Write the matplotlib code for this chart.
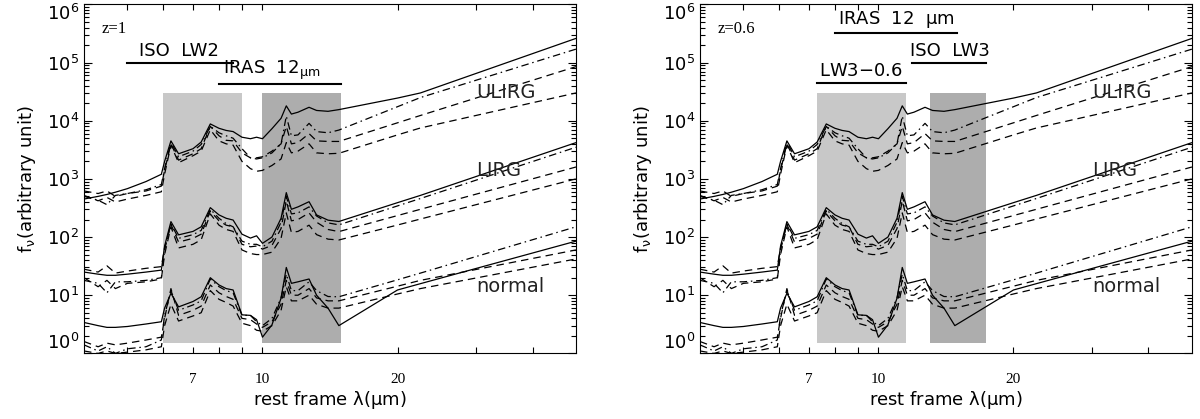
import numpy as np
import matplotlib.pyplot as plt

# rest-frame wavelength grid (micron), shared by every template
wave = [4.0, 4.3, 4.5, 4.7, 5.0, 5.5, 5.95, 6.05, 6.25, 6.5, 7.0, 7.3, 7.65, 8.0, 8.3,
        8.6, 9.0, 9.4, 9.7, 10.0, 10.5, 11.0, 11.3, 11.6, 12.0, 12.7, 13.2, 14.0, 14.8,
        20.0, 22.5, 50.0]

# ULIRG templates
ulirg_solid = [450, 500, 540, 590, 680, 900, 1200, 2000, 4500, 2700, 3300, 4300, 8800, 7400, 6800,
               6500, 5200, 4900, 5200, 4900, 7300, 11000, 18000, 13000, 14000, 17000, 15000, 14500, 15500,
               24500, 30000, 260000]
ulirg_dashdot = [500, 430, 360, 520, 560, 650, 800, 1500, 4300, 2400, 3000, 3900, 8000, 6200, 5500,
                 5000, 3300, 2300, 2200, 2300, 2800, 4000, 12000, 5500, 5700, 9000, 6500, 6200, 6900,
                 17400, 25000, 170000]
ulirg_dash1 = [620, 560, 620, 500, 560, 620, 750, 1400, 4000, 2100, 2700, 3300, 8000, 5500, 4600,
               4500, 2800, 2300, 2300, 2400, 3000, 4000, 8000, 4000, 4200, 6000, 4500, 4400, 4400,
               9200, 12300, 85000]
ulirg_dash2 = [520, 420, 480, 400, 450, 520, 600, 1200, 3800, 1900, 2500, 3000, 7000, 4500, 4000,
               3800, 2000, 1500, 1350, 1400, 1700, 2200, 4200, 2800, 3000, 4000, 2800, 2700, 2750,
               5700, 7500, 30000]

# LIRG templates
lirg_solid = [25, 23, 22, 22, 23, 25, 27, 70, 184, 109, 125, 150, 320, 240, 210,
              196, 112, 96, 105, 78, 100, 210, 580, 300, 330, 405, 240, 195, 185,
              390, 520, 4200]
lirg_dashdot = [18, 16, 11, 17, 17, 18, 20, 60, 170, 95, 110, 130, 300, 210, 170,
                150, 85, 75, 75, 68, 85, 180, 500, 250, 260, 330, 230, 175, 162,
                343, 460, 3500]
lirg_dash1 = [28, 25, 32, 24, 26, 29, 31, 65, 165, 82, 95, 112, 280, 190, 160,
              150, 75, 68, 70, 62, 72, 140, 420, 190, 200, 260, 180, 135, 124,
              234, 300, 1600]
lirg_dash2 = [20, 14, 18, 13, 16, 17, 19, 50, 150, 65, 75, 90, 250, 160, 135,
              125, 60, 52, 50, 50, 55, 95, 260, 120, 125, 160, 110, 92, 89,
              161, 204, 1000]

# normal galaxy templates
normal_solid = [3.4, 3.0, 2.8, 2.8, 2.9, 3.2, 3.5, 6.0, 10.8, 6.3, 7.8, 9.4, 20, 15, 13,
                12.3, 4.6, 4.5, 3.8, 1.9, 3.1, 8.9, 30, 16, 17, 19, 10, 6, 3.0,
                12.3, 15.8, 85]
normal_dashdot = [1.4, 1.1, 1.3, 1.0, 1.2, 1.3, 1.7, 4.5, 12, 5.5, 6.8, 8, 19, 14, 12,
                  11, 4.5, 4.5, 3.5, 3.0, 4.0, 9, 23, 12, 12, 17, 12, 9.5, 9.4,
                  18.4, 24, 150]
normal_dash1 = [1.6, 1.3, 1.5, 1.4, 1.5, 1.7, 1.9, 4.0, 13, 4.5, 5.5, 6.5, 15, 11, 9.5,
                8.5, 4.0, 3.8, 3.2, 2.8, 3.5, 7, 18, 10, 10, 13, 9, 8, 8,
                14.3, 18, 60]
normal_dash2 = [1.1, 1.0, 1.1, 1.0, 1.05, 1.15, 1.3, 3.0, 7, 3.6, 4.4, 5, 12, 8.5, 7.5,
                6.5, 3.3, 3.0, 2.5, 2.4, 3.0, 5.5, 14, 8, 8, 10, 7, 6, 6,
                10.5, 13, 42]

group_names = ["ULIRG", "LIRG", "normal"]
group_label_y = [3.0e4, 1.4e3, 14]

# filter bands (rest frame) and labels per panel: (label, start, end, height, text centre)
redshifts = ["z=1", "z=0.6"]
light_band = [(6.0, 9.0), (7.3, 11.5)]
dark_band = [(10.0, 15.0), (13.0, 17.4)]
filters = [
    [("ISO  LW2", 5.0, 8.6, 1.0e5, 6.5), ("IRAS  12$_{\\mu \\rm m}$", 8.0, 15.0, 4.2e4, 10.5)],
    [("IRAS  12  $\\mu$m", 8.0, 15.0, 3.2e5, 10.95), ("ISO  LW3", 11.9, 17.4, 1.0e5, 14.4),
     ("LW3$-$0.6", 7.3, 11.5, 4.4e4, 9.16)],
]

curves = [
    (ulirg_solid, "solid"), (ulirg_dashdot, "dashdot"), (ulirg_dash1, "dash"), (ulirg_dash2, "dash"),
    (lirg_solid, "solid"), (lirg_dashdot, "dashdot"), (lirg_dash1, "dash"), (lirg_dash2, "dash"),
    (normal_solid, "solid"), (normal_dashdot, "dashdot"), (normal_dash1, "dash"), (normal_dash2, "dash"),
]
styles = {"solid": dict(ls="-"),
          "dash": dict(ls=(0, (6, 4))),
          "dashdot": dict(ls=(0, (6, 3, 1.2, 3)))}

plt.rcParams["mathtext.fontset"] = "dejavusans"
plt.rcParams["mathtext.default"] = "regular"

fig = plt.figure(figsize=(12, 4.19), dpi=100)
lefts = [0.07, 0.5833]

for i in range(2):
    ax = fig.add_axes([lefts[i], 0.1566, 0.41, 0.833])
    ax.set_xscale("log")
    ax.set_yscale("log")
    ax.set_xlim(4, 50)
    ax.set_ylim(1, 1e6)

    ax.fill_between(light_band[i], 1.5, 3e4, color="#c8c8c8", lw=0, zorder=0)
    ax.fill_between(dark_band[i], 1.5, 3e4, color="#adadad", lw=0, zorder=0)

    for vals, st in curves:
        ax.plot(wave, vals, color="k", lw=0.9, **styles[st])

    for name, ypos in zip(group_names, group_label_y):
        ax.text(30, ypos, name, fontsize=14, va="center", ha="left", color="#222222")

    for label, x0, x1, yl, xc in filters[i]:
        ax.plot([x0, x1], [yl, yl], color="k", lw=1.5)
        ax.text(xc, yl * 1.12, label, fontsize=13, ha="center", va="bottom")

    ax.text(0.035, 0.93, redshifts[i], transform=ax.transAxes, fontsize=12,
            family="Liberation Serif", va="center")

    # ticks
    ax.set_xticks([7, 10, 20])
    ax.set_xticks([5, 6, 8, 9, 30, 40], minor=True)
    ax.set_xticklabels(["7", "10", "20"], family="Liberation Serif", fontsize=11)
    ax.xaxis.set_minor_formatter(plt.NullFormatter())
    yt = [10.0 ** k for k in range(7)]
    ax.set_yticks(yt)
    ax.set_yticklabels(["$10^{%d}$" % k for k in range(7)], fontsize=13)
    labs = ax.get_yticklabels()
    labs[0].set_va("bottom")
    labs[-1].set_va("top")
    ax.tick_params(which="both", direction="in", top=True, right=True, width=0.8)
    ax.tick_params(which="major", length=6)
    ax.tick_params(which="minor", length=3.5)
    ax.tick_params(axis="x", which="both", length=4, pad=14)
    ax.set_xlabel("rest frame $\\lambda$($\\mu$m)", fontsize=13, labelpad=2)
    ax.set_ylabel("f$_\\nu$(arbitrary unit)", fontsize=13, labelpad=6)

fig.savefig("out.png", dpi=100)
